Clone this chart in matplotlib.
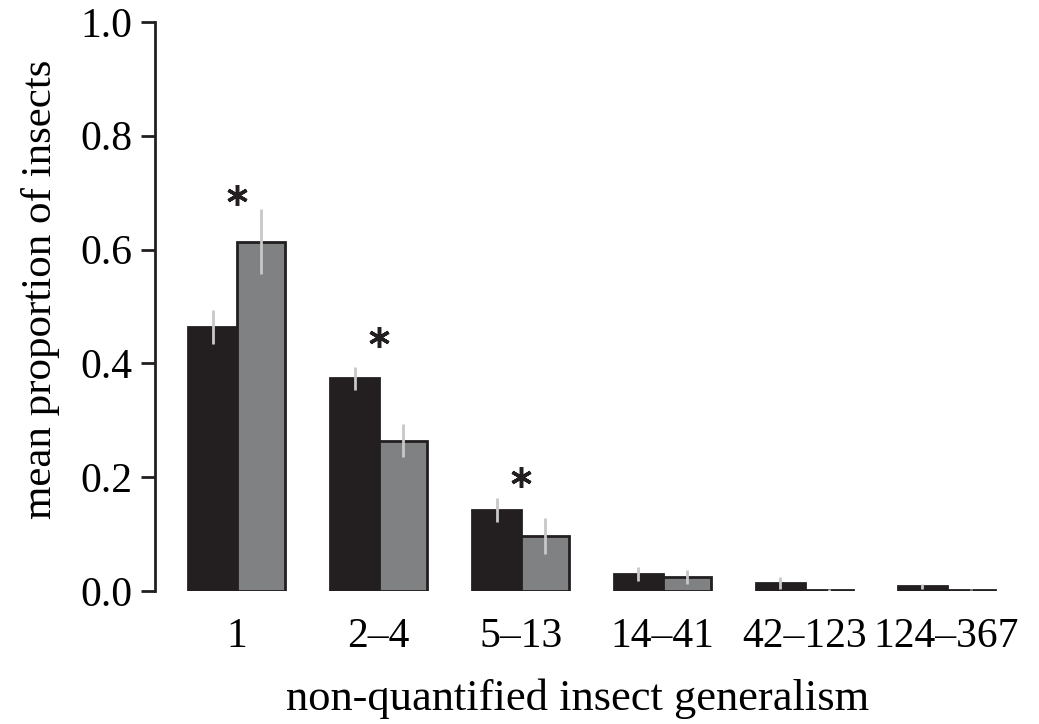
import numpy as np
import matplotlib.pyplot as plt

plt.rcParams['font.family'] = ['Liberation Serif', 'DejaVu Serif']

categories = ['1', '2\u20134', '5\u201313', '14\u201341', '42\u2013123', '124\u2013367']
dark_vals = [0.464, 0.374, 0.142, 0.030, 0.014, 0.008]
dark_err = [0.030, 0.020, 0.021, 0.012, 0.010, 0.004]
grey_vals = [0.614, 0.264, 0.097, 0.025, 0.002, 0.002]
grey_err = [0.057, 0.029, 0.032, 0.012, 0.002, 0.001]
signif = [True, True, True, False, False, False]
star_y = [0.696, 0.446, 0.200]

fig = plt.figure(figsize=(10.39, 7.24), dpi=100)
ax = fig.add_axes([0.149, 0.1837, 0.813, 0.786])

x = np.arange(len(categories))
w = 0.34
ax.bar(x - w/2, dark_vals, w, color='#231f20', edgecolor='#231f20', linewidth=2, zorder=2)
ax.bar(x + w/2, grey_vals, w, color='#808182', edgecolor='#231f20', linewidth=2, zorder=2)
ax.errorbar(x - w/2, dark_vals, yerr=dark_err, fmt='none', ecolor='#c8c8c8', elinewidth=2, capsize=0, zorder=3)
ax.errorbar(x + w/2, grey_vals, yerr=grey_err, fmt='none', ecolor='#c8c8c8', elinewidth=2, capsize=0, zorder=3)

# significance asterisks
sx = [x[i] for i, s in enumerate(signif) if s]
ax.plot(sx, star_y, linestyle='none', marker=(6, 2, 0), markersize=15,
        markeredgewidth=2.5, color='#231f20', zorder=4)

ax.set_xlim(-0.577, 5.373)
ax.set_ylim(0, 1.0)
ax.set_yticks([0, 0.2, 0.4, 0.6, 0.8, 1.0])
ax.set_yticklabels(['0.0', '0.2', '0.4', '0.6', '0.8', '1.0'])
ax.set_xticks(x)
ax.set_xticklabels(categories)
for sp in ['top', 'right', 'bottom']:
    ax.spines[sp].set_visible(False)
ax.spines['left'].set_linewidth(2)
ax.spines['left'].set_color('#231f20')
ax.tick_params(axis='y', direction='out', length=10, width=2, labelsize=30, pad=6, color='#231f20')
ax.tick_params(axis='x', length=0, labelsize=30, pad=19)
ax.set_ylabel('mean proportion of insects', fontsize=31)
ax.set_xlabel('non-quantified insect generalism', fontsize=32, labelpad=16)
ax.yaxis.set_label_coords(-0.112, 0.53)

plt.savefig('out.png', dpi=100)
